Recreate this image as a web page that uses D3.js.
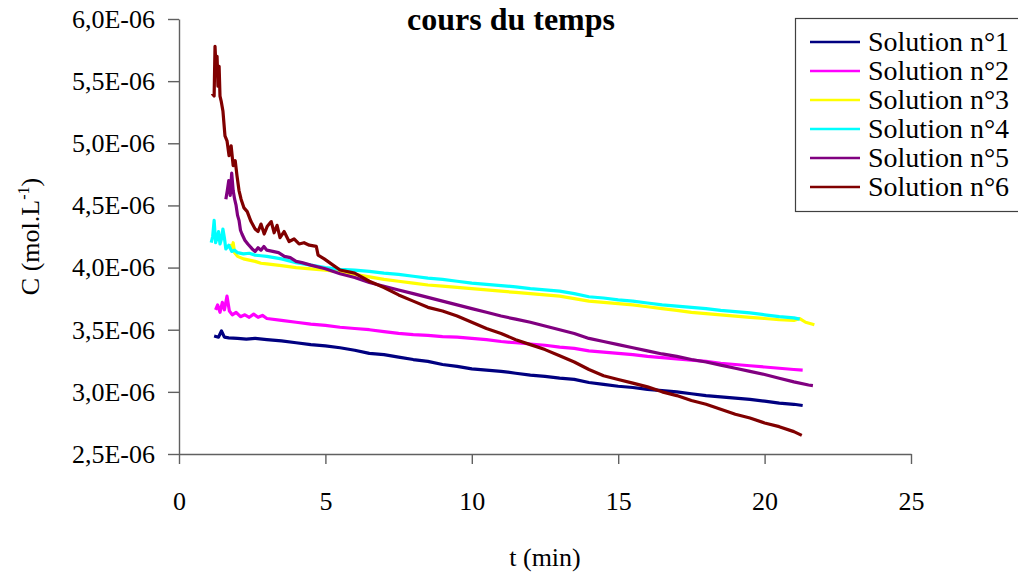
<!DOCTYPE html>
<html>
<head>
<meta charset="utf-8">
<script src="https://cdn.jsdelivr.net/npm/d3@7"></script>
<style>
  html, body { margin: 0; padding: 0; background: #fff; }
  svg { display: block; }
  svg text { font-family: "Liberation Serif", "Times New Roman", serif; fill: #000; }
</style>
</head>
<body>
<svg id="chart" width="1018" height="573" font-family="Liberation Serif, serif"></svg>
<script>
// ---- data (concentration in units of 1E-06 mol/L, time in min) ----
const xTicks = [0, 5, 10, 15, 20, 25];
const yTicks = [2.5, 3.0, 3.5, 4.0, 4.5, 5.0, 5.5, 6.0];
const yTickLabels = ["2,5E-06", "3,0E-06", "3,5E-06", "4,0E-06", "4,5E-06", "5,0E-06", "5,5E-06", "6,0E-06"];
const seriesNames = ["Solution n°1", "Solution n°2", "Solution n°3", "Solution n°4", "Solution n°5", "Solution n°6"];
const seriesColors = ["#000080", "#FF00FF", "#FFFF00", "#00FFFF", "#800080", "#800000"];

const sol1 = [[1.20,3.45],[1.35,3.44],[1.45,3.49],[1.55,3.44],[1.7,3.435],[2.0,3.43],[2.3,3.425],[2.6,3.43],[3.0,3.42],[3.5,3.41],[4.0,3.395],[4.5,3.38],[5.0,3.37],[5.5,3.355],[6.0,3.335],[6.5,3.31],[7.0,3.30],[7.5,3.28],[8.0,3.26],[8.5,3.245],[9.0,3.22],[9.5,3.205],[10.0,3.185],[10.5,3.175],[11.0,3.165],[11.5,3.15],[12.0,3.135],[12.5,3.125],[13.0,3.11],[13.5,3.10],[14.0,3.075],[14.5,3.06],[15.0,3.045],[15.5,3.035],[16.0,3.02],[16.5,3.01],[17.0,3.00],[17.5,2.985],[18.0,2.97],[18.5,2.96],[19.0,2.95],[19.5,2.94],[20.0,2.925],[20.5,2.91],[21.0,2.90],[21.3,2.89]];
const sol2 = [[1.25,3.66],[1.32,3.70],[1.40,3.64],[1.48,3.72],[1.55,3.66],[1.64,3.77],[1.72,3.65],[1.82,3.62],[1.95,3.64],[2.1,3.605],[2.25,3.62],[2.4,3.60],[2.55,3.625],[2.7,3.60],[2.85,3.615],[3.0,3.59],[3.5,3.575],[4.0,3.56],[4.5,3.545],[5.0,3.535],[5.5,3.52],[6.0,3.51],[6.5,3.50],[7.0,3.485],[7.5,3.47],[8.0,3.46],[8.5,3.455],[9.0,3.445],[9.5,3.44],[10.0,3.43],[10.5,3.42],[11.0,3.405],[11.5,3.395],[12.0,3.385],[12.5,3.375],[13.0,3.36],[13.5,3.35],[14.0,3.33],[14.5,3.32],[15.0,3.31],[15.5,3.30],[16.0,3.285],[16.5,3.275],[17.0,3.265],[17.5,3.255],[18.0,3.245],[18.5,3.23],[19.0,3.22],[19.5,3.21],[20.0,3.20],[20.5,3.19],[21.0,3.18],[21.3,3.175]];
const sol3 = [[1.75,4.19],[1.80,4.14],[1.85,4.20],[1.90,4.12],[2.0,4.09],[2.2,4.07],[2.4,4.06],[2.6,4.05],[2.8,4.035],[3.0,4.03],[3.5,4.015],[4.0,4.00],[4.5,3.99],[5.0,3.98],[5.5,3.965],[6.0,3.945],[6.5,3.925],[7.0,3.905],[7.5,3.89],[8.0,3.875],[8.5,3.86],[9.0,3.85],[9.5,3.84],[10.0,3.83],[10.5,3.82],[11.0,3.81],[11.5,3.80],[12.0,3.79],[12.5,3.78],[13.0,3.77],[13.5,3.75],[14.0,3.73],[14.5,3.72],[15.0,3.71],[15.5,3.70],[16.0,3.685],[16.5,3.67],[17.0,3.655],[17.5,3.64],[18.0,3.63],[18.5,3.62],[19.0,3.61],[19.5,3.60],[20.0,3.59],[20.5,3.58],[21.0,3.575],[21.2,3.59],[21.4,3.56],[21.7,3.54]];
const sol4 = [[1.10,4.20],[1.15,4.25],[1.20,4.38],[1.25,4.20],[1.30,4.24],[1.35,4.29],[1.40,4.19],[1.45,4.23],[1.50,4.31],[1.55,4.24],[1.60,4.15],[1.70,4.18],[1.80,4.13],[1.90,4.14],[2.0,4.12],[2.2,4.11],[2.4,4.115],[2.6,4.10],[2.8,4.095],[3.0,4.09],[3.5,4.07],[4.0,4.04],[4.5,4.02],[5.0,4.00],[5.5,3.985],[6.0,3.98],[6.5,3.97],[7.0,3.955],[7.5,3.945],[8.0,3.93],[8.5,3.915],[9.0,3.905],[9.5,3.89],[10.0,3.875],[10.5,3.865],[11.0,3.855],[11.5,3.845],[12.0,3.83],[12.5,3.82],[13.0,3.81],[13.5,3.79],[14.0,3.765],[14.5,3.755],[15.0,3.74],[15.5,3.73],[16.0,3.715],[16.5,3.70],[17.0,3.69],[17.5,3.68],[18.0,3.67],[18.5,3.655],[19.0,3.645],[19.5,3.635],[20.0,3.62],[20.5,3.605],[21.0,3.595],[21.2,3.585]];
const sol5 = [[1.60,4.55],[1.65,4.62],[1.70,4.70],[1.75,4.58],[1.80,4.76],[1.85,4.62],[1.90,4.55],[1.95,4.50],[2.0,4.42],[2.05,4.38],[2.1,4.30],[2.15,4.27],[2.25,4.22],[2.35,4.19],[2.5,4.15],[2.6,4.13],[2.7,4.16],[2.8,4.14],[2.9,4.17],[3.0,4.14],[3.2,4.13],[3.4,4.12],[3.6,4.09],[3.8,4.08],[4.0,4.05],[4.2,4.04],[4.5,4.02],[5.0,3.99],[5.5,3.95],[6.0,3.92],[6.5,3.88],[7.0,3.85],[7.5,3.82],[8.0,3.79],[8.5,3.76],[9.0,3.73],[9.5,3.70],[10.0,3.67],[10.5,3.64],[11.0,3.61],[11.5,3.585],[12.0,3.56],[12.5,3.53],[13.0,3.50],[13.5,3.47],[14.0,3.43],[14.5,3.405],[15.0,3.38],[15.5,3.355],[16.0,3.33],[16.5,3.305],[17.0,3.285],[17.5,3.26],[18.0,3.24],[18.5,3.215],[19.0,3.19],[19.5,3.165],[20.0,3.14],[20.5,3.11],[21.0,3.08],[21.5,3.055],[21.65,3.05]];
const sol6 = [[1.13,5.40],[1.20,5.38],[1.23,5.78],[1.27,5.58],[1.30,5.70],[1.33,5.46],[1.37,5.62],[1.40,5.38],[1.44,5.34],[1.50,5.26],[1.57,5.06],[1.64,5.02],[1.71,4.90],[1.78,4.98],[1.85,4.82],[1.92,4.86],[1.98,4.74],[2.05,4.62],[2.12,4.55],[2.22,4.48],[2.33,4.45],[2.46,4.37],[2.60,4.31],[2.70,4.29],[2.80,4.35],[2.91,4.27],[3.01,4.33],[3.15,4.37],[3.25,4.28],[3.35,4.34],[3.45,4.24],[3.59,4.29],[3.76,4.21],[3.93,4.23],[4.10,4.19],[4.27,4.20],[4.45,4.18],[4.69,4.17],[4.75,4.10],[4.96,4.07],[5.2,4.03],[5.5,3.98],[6.0,3.955],[6.5,3.89],[7.0,3.84],[7.5,3.78],[8.0,3.73],[8.5,3.68],[9.0,3.65],[9.5,3.61],[10.0,3.56],[10.5,3.51],[11.0,3.47],[11.5,3.42],[12.0,3.38],[12.5,3.34],[13.0,3.29],[13.5,3.24],[14.0,3.18],[14.5,3.13],[15.0,3.10],[15.5,3.07],[16.0,3.04],[16.5,3.00],[17.0,2.97],[17.5,2.93],[18.0,2.90],[18.5,2.86],[19.0,2.82],[19.5,2.79],[20.0,2.75],[20.5,2.72],[21.0,2.68],[21.27,2.65]];

const allSeries = [sol1, sol2, sol3, sol4, sol5, sol6];

// ---- layout ----
const svg = d3.select("#chart");
const x = d3.scaleLinear().domain([0, 25]).range([179, 911]);
const y = d3.scaleLinear().domain([2.5, 6.0]).range([454, 19]);
const axisColor = "#606060";
const serif = "Liberation Serif, Times New Roman, serif";

// title (only the visible line)
svg.append("text")
  .attr("x", 511).attr("y", 30)
  .attr("text-anchor", "middle")
  .attr("font-family", serif)
  .style("font-size", "32px").style("font-weight", "bold")
  .text("cours du temps");

// x axis
const xAxis = svg.append("g").attr("transform", `translate(0,${y(2.5)})`)
  .call(d3.axisBottom(x).tickValues(xTicks).tickSize(10).tickSizeOuter(0).tickPadding(28).tickFormat(d3.format("d")));
xAxis.attr("font-family", serif).attr("font-size", 26);
xAxis.select(".domain").attr("stroke", axisColor).attr("stroke-width", 1.4);
xAxis.selectAll(".tick line").attr("stroke", axisColor).attr("stroke-width", 1.4);
xAxis.selectAll(".tick text").attr("font-family", serif).style("font-size", "26px").attr("fill", "#000");

// y axis
const yAxis = svg.append("g").attr("transform", `translate(${x(0)},0)`)
  .call(d3.axisLeft(y).tickValues(yTicks).tickSize(11).tickSizeOuter(0).tickPadding(13)
    .tickFormat((d, i) => yTickLabels[i]));
yAxis.attr("font-family", serif).attr("font-size", 26);
yAxis.select(".domain").attr("stroke", axisColor).attr("stroke-width", 1.4);
yAxis.selectAll(".tick line").attr("stroke", axisColor).attr("stroke-width", 1.4);
yAxis.selectAll(".tick text").attr("font-family", serif).style("font-size", "26px").attr("fill", "#000");

// axis titles
svg.append("text")
  .attr("x", 545).attr("y", 566)
  .attr("text-anchor", "middle")
  .attr("font-family", serif)
  .style("font-size", "26px")
  .text("t (min)");

const yt = svg.append("text")
  .attr("transform", `translate(39,${(y(2.5) + y(6.0)) / 2}) rotate(-90)`)
  .attr("text-anchor", "middle")
  .attr("font-family", serif)
  .style("font-size", "26px");
yt.append("tspan").text("C (mol.L");
yt.append("tspan").attr("dy", -10).style("font-size", "16px").text("-1");
yt.append("tspan").attr("dy", 10).text(")");

// lines
const line = d3.line().x(d => x(d[0])).y(d => y(d[1]));
svg.append("g").selectAll("path").data(allSeries).join("path")
  .attr("d", line)
  .attr("fill", "none")
  .attr("stroke", (d, i) => seriesColors[i])
  .attr("stroke-width", 3.2)
  .attr("stroke-linejoin", "round");

// legend
const lg = svg.append("g");
lg.append("rect").attr("x", 795.5).attr("y", 18.5).attr("width", 240).attr("height", 193)
  .attr("fill", "#fff").attr("stroke", "#404040").attr("stroke-width", 1.2);
seriesNames.forEach((name, i) => {
  const ry = 42 + i * 29;
  lg.append("line").attr("x1", 810).attr("x2", 860).attr("y1", ry).attr("y2", ry)
    .attr("stroke", seriesColors[i]).attr("stroke-width", 2.5);
  lg.append("text").attr("x", 868).attr("y", ry + 9)
    .attr("font-family", serif)
    .style("font-size", "28px").text(name);
});
</script>
</body>
</html>
